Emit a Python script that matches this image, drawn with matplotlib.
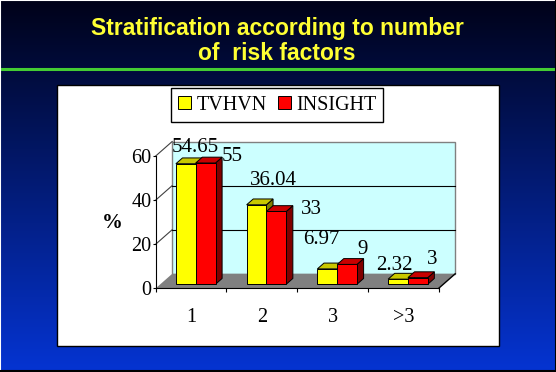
import numpy as np
import matplotlib
matplotlib.use("Agg")
import matplotlib.pyplot as plt
from matplotlib.patches import Polygon, Rectangle
from matplotlib.lines import Line2D

# data
categories = ["1", "2", "3", ">3"]
series_names = ["TVHVN", "INSIGHT"]
tvhvn = [54.65, 36.04, 6.97, 2.32]
insight = [55, 33, 9, 3]
value_labels_tvhvn = ["54.65", "36.04", "6.97", "2.32"]
value_labels_insight = ["55", "33", "9", "3"]
y_ticks = [0, 20, 40, 60]

# label nudges (pixels) - the labels in the original were moved around by hand
nudge_tvhvn = [(9, 16), (17, 24), (-6, 29), (-4, 14)]
nudge_insight = [(27, 6), (35, 2), (15, 15), (14, 18)]

W, H = 556, 372
fig = plt.figure(figsize=(W / 100, H / 100), dpi=100)

# background gradient
bg = fig.add_axes([0, 0, 1, 1], zorder=-10)
top = np.array([0, 2, 25]) / 255
bot = np.array([5, 52, 210]) / 255
t = np.linspace(0, 1, 256)[:, None]
grad = top[None, :] * (1 - t) + bot[None, :] * t
bg.imshow(grad[:, None, :], aspect="auto", extent=[0, 1, 0, 1])
bg.set_xlim(0, 1)
bg.set_ylim(0, 1)
bg.axis("off")


def fx(px):
    return px / W


def fy(py):
    return 1 - py / H


# title
title_font = dict(family="Liberation Sans", weight="bold", size=16.5, color="#ffff33",
                  ha="center", va="center")
fig.text(fx(277), fy(29), "Stratification according to number", **title_font)
fig.text(fx(277), fy(54), "of  risk factors", **title_font)
fig.add_artist(Line2D([fx(2), fx(554)], [fy(68.5), fy(68.5)], color="#44cc33", lw=2.2,
                      transform=fig.transFigure))

# frame lines
fig.add_artist(Line2D([0, 0, 1], [0, 1, 1], color="white", lw=1.5, transform=fig.transFigure))
fig.add_artist(Line2D([0, 1, 1], [0.002, 0.002, 1], color="black", lw=1.5,
                      transform=fig.transFigure))

# white panel
fig.add_artist(Rectangle((fx(57), fy(345.7)), fx(499) - fx(57), fy(84.5) - fy(345.7),
                         facecolor="white", edgecolor="black", lw=1,
                         transform=fig.transFigure, zorder=0))

# front plane axes
x0, x1, y0, y1 = 155.7, 438.7, 288.3, 156
ax = fig.add_axes([fx(x0), fy(y0), fx(x1) - fx(x0), fy(y1) - fy(y0)], zorder=2)
ax.patch.set_alpha(0)
n = len(categories)
ax.set_xlim(0, n)
ax.set_ylim(0, 60)

# depth of the 3d box (pixels) converted to data units
depth_px = (16.5, 14.5)
ddx = depth_px[0] / ((x1 - x0) / n)
ddy = depth_px[1] / ((y0 - y1) / 60)

# back wall
ax.add_patch(Polygon([(ddx, ddy), (n + ddx, ddy), (n + ddx, 60 + ddy), (ddx, 60 + ddy)],
                     closed=True, facecolor="#ccffff", edgecolor="#808080", lw=1,
                     clip_on=False, zorder=1))
for v in y_ticks[1:-1]:
    ax.plot([ddx, n + ddx], [v + ddy, v + ddy], color="black", lw=0.8, clip_on=False, zorder=1.5)
for v in y_ticks[1:]:
    ax.plot([0, ddx], [v, v + ddy], color="#404040", lw=0.8, clip_on=False, zorder=1.5)

# floor
ax.add_patch(Polygon([(0, 0), (n, 0), (n + ddx, ddy), (ddx, ddy)], closed=True,
                     facecolor="#808080", edgecolor="none", clip_on=False, zorder=2))
ax.plot([n, n + ddx], [0, ddy], color="black", lw=1, clip_on=False, zorder=2.5)

# bars
f0, f1 = 0.28, 0.68
bw = 0.28
xc = np.arange(n) + 0.5
series = [(tvhvn, "#ffff00", "#c8c800", -bw, value_labels_tvhvn, nudge_tvhvn),
          (insight, "#ff0000", "#c80000", 0.0, value_labels_insight, nudge_insight)]
side_colors = ["#808000", "#800000"]

for i in range(n):
    for k, (vals, c_front, c_top, off, labs, nud) in enumerate(series):
        v = vals[i]
        xl = xc[i] + off + f0 * ddx
        xr = xl + bw
        yb = f0 * ddy
        yt = v + yb
        d_x = (f1 - f0) * ddx
        d_y = (f1 - f0) * ddy
        z = 3 + i * 0.1 + k * 0.01
        ax.add_patch(Polygon([(xr, yb), (xr + d_x, yb + d_y), (xr + d_x, yt + d_y), (xr, yt)],
                             closed=True, facecolor=side_colors[k], edgecolor="black", lw=0.7,
                             clip_on=False, zorder=z))
        ax.bar(xl, v, width=bw, bottom=yb, align="edge", color=c_front, edgecolor="black",
               lw=0.7, clip_on=False, zorder=z + 0.001,
               label=series_names[k] if i == 0 else None)
        ax.add_patch(Polygon([(xl, yt), (xr, yt), (xr + d_x, yt + d_y), (xl + d_x, yt + d_y)],
                             closed=True, facecolor=c_top, edgecolor="black", lw=0.7,
                             clip_on=False, zorder=z + 0.002))
        ax.annotate(labs[i], xy=(xl + bw / 2, yt), xytext=nud[i],
                    textcoords="offset pixels", ha="center", va="center",
                    family="Liberation Serif", fontsize=15, color="black",
                    annotation_clip=False, zorder=10)

# axes, ticks
for s in ["top", "right"]:
    ax.spines[s].set_visible(False)
ax.spines["left"].set_color("black")
ax.spines["bottom"].set_color("black")
ax.spines["left"].set_zorder(5)
ax.spines["bottom"].set_zorder(5)
ax.set_yticks(y_ticks)
ax.set_yticklabels([str(v) for v in y_ticks], family="Liberation Serif", fontsize=14.5)
ax.tick_params(axis="y", direction="out", length=2.5, width=0.8, pad=0.5)
ax.set_xticks(xc)
ax.set_xticklabels(categories, family="Liberation Serif", fontsize=14.5)
ax.tick_params(axis="x", which="major", length=0, pad=14)
ax.set_xticks(np.arange(n + 1), minor=True)
ax.tick_params(axis="x", which="minor", direction="out", length=3, width=0.8)
ax.set_ylabel("%", rotation=0, family="Liberation Serif", weight="bold", fontsize=15)
ax.yaxis.set_label_coords(-0.155, 0.494)
ax.yaxis.label.set_va("center")
ax.yaxis.label.set_ha("center")

# legend
fig.legend(loc="center", bbox_to_anchor=(fx(277.3), fy(105)), ncol=2,
           prop={"family": "Liberation Serif", "size": 14.5},
           frameon=True, fancybox=False, edgecolor="black", framealpha=1,
           handlelength=0.65, handleheight=0.65, handletextpad=0.25,
           columnspacing=0.55, borderpad=0.35, borderaxespad=0)

fig.savefig("out.png", dpi=100)
